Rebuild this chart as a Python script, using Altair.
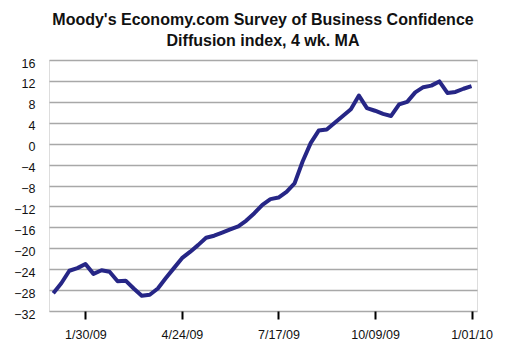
import altair as alt
import pandas as pd

# Weekly observations, 1/02/09 .. 1/01/10 (53 weeks), week index 0..52
week = list(range(53))
values = [-28.6, -26.7, -24.3, -23.8, -23.0, -24.9, -24.2, -24.5, -26.3, -26.2,
          -27.7, -29.1, -28.9, -27.7, -25.7, -23.8, -21.9, -20.7, -19.4, -18.0,
          -17.6, -17.0, -16.4, -15.8, -14.7, -13.3, -11.7, -10.6, -10.3, -9.2,
          -7.6, -3.4, 0.1, 2.5, 2.7, 4.0, 5.3, 6.6, 9.2, 6.8,
          6.3, 5.7, 5.3, 7.5, 8.0, 9.8, 10.8, 11.1, 11.9, 9.7,
          9.9, 10.5, 11.0]

tick_weeks = [4, 16, 28, 40, 52]
tick_labels = ["1/30/09", "4/24/09", "7/17/09", "10/09/09", "1/01/10"]
y_ticks = list(range(-32, 17, 4))

df = pd.DataFrame({"week": week, "value": values})

label_expr = ""
for w, l in zip(tick_weeks, tick_labels):
    label_expr += f"datum.value == {w} ? '{l}' : "
label_expr += "''"

FONT = "Liberation Sans"

chart = alt.Chart(df).mark_line(color="#262686", strokeWidth=4, strokeJoin="round").encode(
    x=alt.X("week:Q",
            scale=alt.Scale(domain=[-0.53, 52.68], nice=False, zero=False),
            axis=alt.Axis(values=tick_weeks, labelExpr=label_expr, title=None,
                          grid=False, domain=False, ticks=True, tickColor="#000000",
                          tickWidth=2, tickSize=8, labelPadding=9,
                          labelFont=FONT, labelFontSize=12.5, labelColor="#111111")),
    y=alt.Y("value:Q",
            scale=alt.Scale(domain=[-32, 16], nice=False),
            axis=alt.Axis(values=y_ticks, title=None, grid=True, gridColor="#a8a8a8",
                          gridWidth=1.5, domain=False, ticks=False, labelPadding=14,
                          labelOffset=3, labelFont=FONT, labelFontSize=12.5,
                          labelColor="#111111")),
).properties(
    width=428,
    height=251,
    title=alt.TitleParams(
        text=["Moody's Economy.com Survey of Business Confidence", "Diffusion index, 4 wk. MA"],
        font=FONT, fontSize=16, fontWeight="bold", color="#111111",
        anchor="middle", lineHeight=21, offset=8),
    autosize=alt.AutoSizeParams(type="none"),
    padding={"left": 41, "top": 52, "right": 25, "bottom": 37},
).configure_view(
    stroke="#a8a8a8", strokeWidth=1.5
).configure(background="white")

chart.save("out.html", embed_options={"renderer": "svg", "actions": False})
